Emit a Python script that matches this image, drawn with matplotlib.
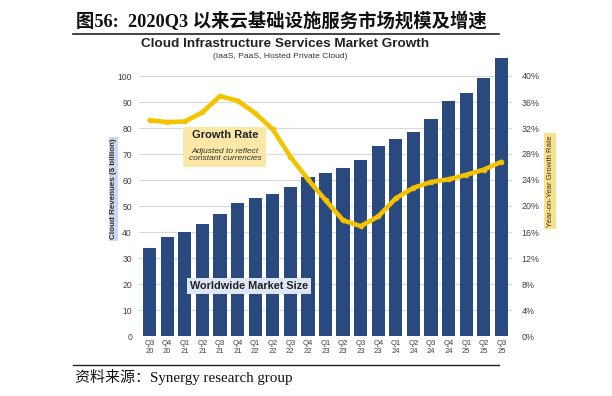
import matplotlib
matplotlib.use("Agg")
import matplotlib.pyplot as plt
import numpy as np

quarters = ["Q3", "Q4", "Q1", "Q2", "Q3", "Q4", "Q1", "Q2", "Q3", "Q4", "Q1",
            "Q2", "Q3", "Q4", "Q1", "Q2", "Q3", "Q4", "Q1", "Q2", "Q3"]
years = ["20", "20", "21", "21", "21", "21", "22", "22", "22", "22", "23",
         "23", "23", "23", "24", "24", "24", "24", "25", "25", "25"]
revenue = [34, 38, 40, 43, 47, 51.3, 53.2, 54.5, 57.4, 61.3, 62.6,
           64.5, 67.7, 73.2, 75.6, 78.3, 83.5, 90.5, 93.3, 99.1, 106.8]
growth = [33.2, 32.9, 33.0, 34.4, 36.9, 36.2, 34.3, 31.8, 27.6, 24.1, 20.9,
          17.8, 16.9, 18.4, 21.2, 22.8, 23.7, 24.1, 24.8, 25.6, 26.8]
left_ticks = list(range(0, 101, 10))
right_ticks = list(range(0, 41, 4))

W, H = 612, 396
fig = plt.figure(figsize=(W / 100, H / 100), dpi=100)

def fx(px):
    return px / W

def fy(py):
    return 1 - py / H

ymax = 108
ax_left, ax_right, ax_bottom_px = 139, 512, 336
top_px = ax_bottom_px - 2.6 * ymax
ax = fig.add_axes([fx(ax_left), fy(ax_bottom_px), fx(ax_right) - fx(ax_left),
                   fy(top_px) - fy(ax_bottom_px)])
ax2 = ax.twinx()

x = np.arange(len(revenue))
ax.bar(x, revenue, width=0.75, color="#2A4A7F", zorder=2)
ax.set_xlim(-0.6, len(revenue) - 0.4)
ax.set_ylim(0, ymax)
ax.set_yticks(left_ticks)
ax.set_yticklabels([str(t) for t in left_ticks], fontsize=6.2, color="#404040",
                   family="Liberation Sans")
ax.yaxis.grid(True, color="#D9D9D9", linewidth=0.8, zorder=0)
ax.set_axisbelow(True)
ax.set_xticks(x)
ax.set_xticklabels([f"{q}\n{y}" for q, y in zip(quarters, years)], fontsize=5.5,
                   color="#404040", family="Liberation Sans", linespacing=1.15)
ax.tick_params(axis="both", length=0, pad=3)
ax.tick_params(axis="y", pad=5)
for s in ax.spines.values():
    s.set_visible(False)

ax2.plot(x, growth, color="#F3C300", linewidth=3.3, marker="o", markersize=3,
         solid_joinstyle="round", solid_capstyle="round", zorder=3)
ax2.set_ylim(0, ymax * 0.4)
ax2.set_yticks(right_ticks)
ax2.set_yticklabels([f"{t}%" for t in right_ticks], fontsize=6.4, color="#404040",
                    family="Liberation Sans")
ax2.tick_params(axis="y", length=0, pad=7)
for s in ax2.spines.values():
    s.set_visible(False)

# Axis labels with colored boxes
fig.text(fx(113.5), fy(189), "Cloud Revenues ($ billion)", rotation=90, ha="center",
         va="center", fontsize=5.8, fontweight="bold", family="Liberation Sans",
         color="#333333",
         bbox=dict(boxstyle="square,pad=0.15", facecolor="#C9D9EE", edgecolor="none"))
fig.text(fx(550), fy(181), "Year-on-Year Growth Rate", rotation=90, ha="center",
         va="center", fontsize=5.6, family="Liberation Sans", color="#333333",
         bbox=dict(boxstyle="square,pad=0.3", facecolor="#F9E08B", edgecolor="none"))

# Annotations
fig.patches.append(plt.Rectangle((fx(183), fy(167)), fx(266) - fx(183), fy(127) - fy(167),
                                 transform=fig.transFigure, facecolor="#FBE8A6",
                                 edgecolor="none", zorder=5))
fig.text(fx(225), fy(135), "Growth Rate", ha="center", va="center", fontsize=8,
         fontweight="bold", family="Liberation Sans", color="#222222", zorder=6)
fig.text(fx(225), fy(155), "Adjusted to reflect\nconstant currencies", ha="center",
         va="center", fontsize=6, style="italic", family="Liberation Sans",
         color="#333333", linespacing=1.05, zorder=6)
fig.text(fx(249), fy(286), "Worldwide Market Size", ha="center", va="center",
         fontsize=7.8, fontweight="bold", family="Liberation Sans", color="#222222",
         bbox=dict(boxstyle="square,pad=0.25", facecolor="#DCE6F4", edgecolor="none"),
         zorder=6)

# Chart titles
fig.text(fx(285), fy(44), "Cloud Infrastructure Services Market Growth", ha="center",
         va="center", fontsize=9.7, fontweight="bold", family="Liberation Sans",
         color="#222222")
fig.text(fx(280), fy(57), "(IaaS, PaaS, Hosted Private Cloud)", ha="center",
         va="center", fontsize=6.1, family="Liberation Sans", color="#333333")

# Report header and footer
fig.text(fx(76), fy(21), "图56:  2020Q3 以来云基础设施服务市场规模及增速", ha="left",
         va="center", fontsize=13.2, fontweight="bold",
         family=["Liberation Serif", "Noto Sans CJK SC"], color="#111111")
fig.add_artist(plt.Line2D([fx(73), fx(499)], [fy(34), fy(34)], color="#222222",
                          linewidth=1.2, transform=fig.transFigure))
fig.add_artist(plt.Line2D([fx(73), fx(499)], [fy(365), fy(365)], color="#222222",
                          linewidth=1.0, transform=fig.transFigure))
fig.text(fx(75), fy(377), "资料来源：Synergy research group", ha="left", va="center",
         fontsize=10.8, family=["Liberation Serif", "Noto Sans CJK SC"], color="#111111")

fig.savefig("out.png", dpi=100, facecolor="white")
